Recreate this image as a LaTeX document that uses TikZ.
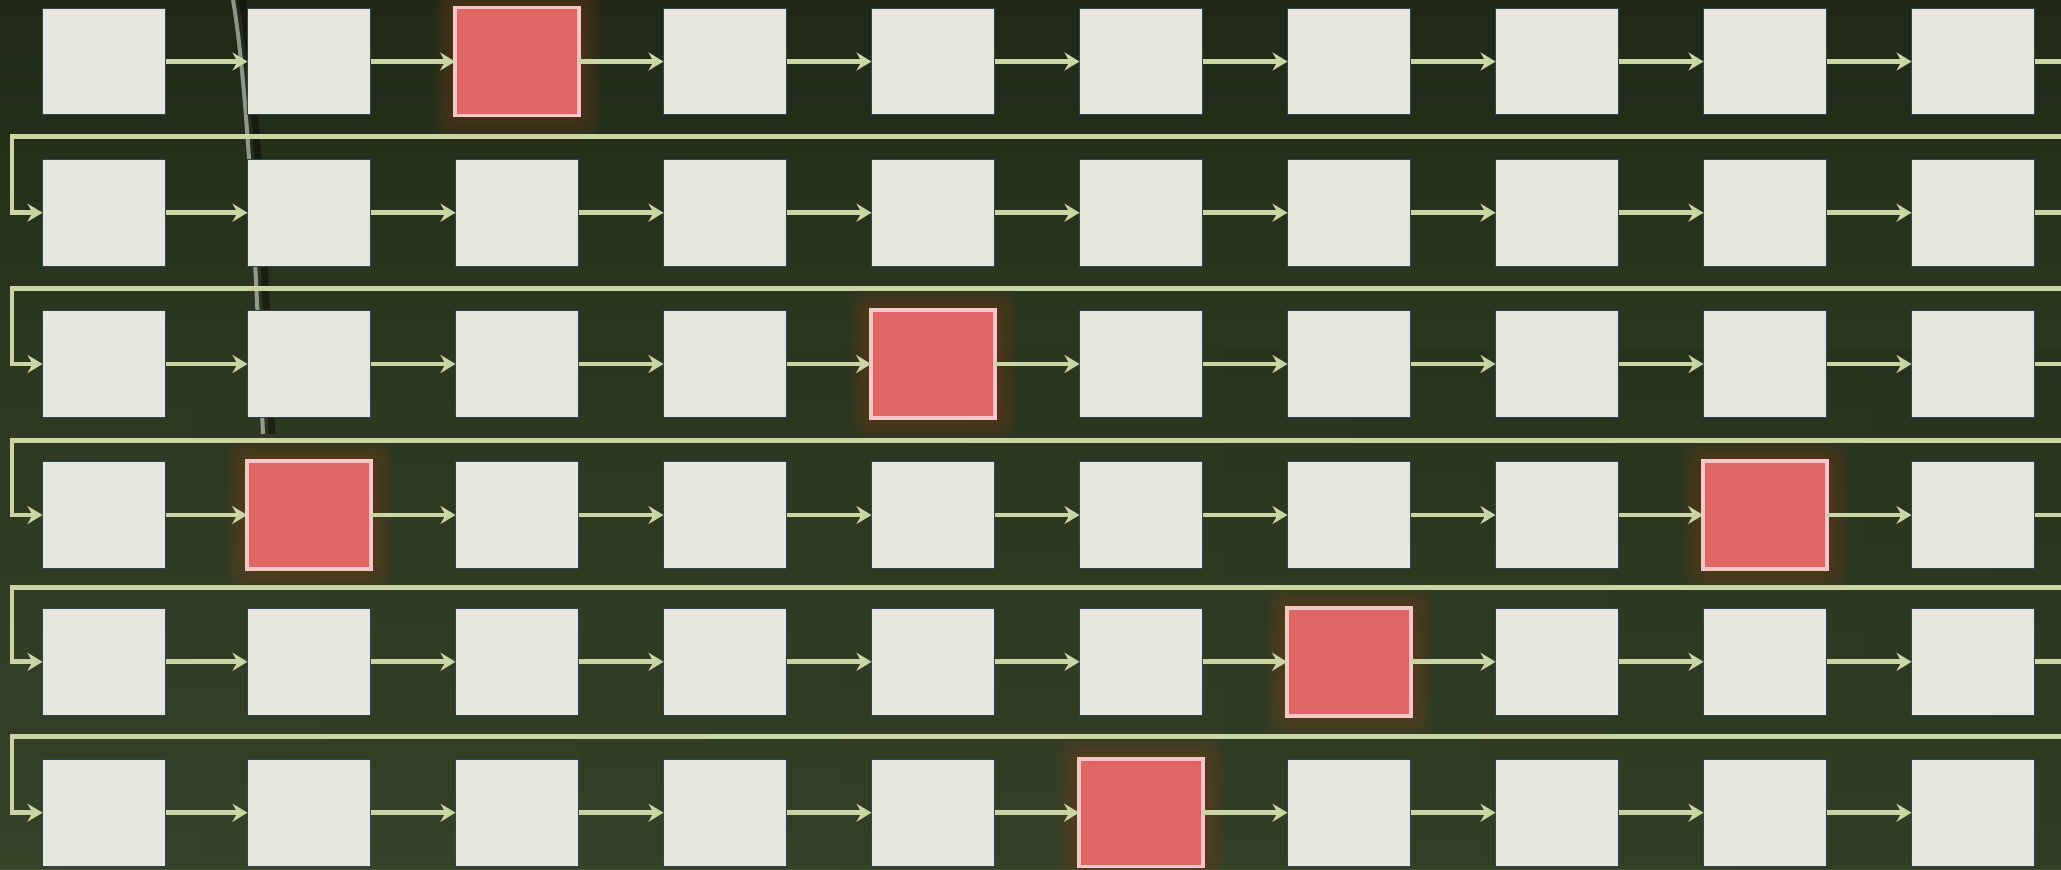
\documentclass[tikz,border=0pt]{standalone}
\usetikzlibrary{arrows.meta}
\definecolor{bgtop}{HTML}{1F2916}
\definecolor{bgbot}{HTML}{3E4F2F}
\definecolor{bgleft}{HTML}{4E5F3A}
\definecolor{flowcol}{HTML}{C9D6A3}
\definecolor{boxfill}{HTML}{E6E6DF}
\definecolor{boxborder}{HTML}{2E4558}
\definecolor{hotfill}{HTML}{E06666}
\definecolor{hotborder}{HTML}{F7C6C6}
\definecolor{glowcol}{HTML}{7A3C1A}
\pgfdeclarelayer{bg}
\pgfdeclarelayer{glow}
\pgfsetlayers{bg,glow,main}
\tikzset{
  cell/.style={draw=boxborder, line width=0.5pt, fill=boxfill,
    minimum width=61.5pt, minimum height=53.4pt, inner sep=0pt, outer sep=0pt},
  hot/.style={draw=hotborder, line width=1.85pt, fill=hotfill,
    minimum width=61.9pt, minimum height=53.9pt},
  kind-1-3/.style={hot}, kind-3-5/.style={hot}, kind-4-2/.style={hot},
  kind-4-9/.style={hot}, kind-5-7/.style={hot}, kind-6-6/.style={hot},
  flow/.style={draw=flowcol, line width=2.4pt,
    -{Stealth[length=7.5pt,width=9pt,inset=2.5pt]}},
  link/.style={draw=flowcol, line width=2.4pt}
}
\begin{document}
\begin{tikzpicture}[x=0.5pt,y=-0.5pt]
\useasboundingbox (0,0) rectangle (2061,869);
\begin{pgfonlayer}{bg}
% background
\fill[top color=bgtop, bottom color=bgbot] (0,0) rectangle (2061,869);
\fill[left color=bgleft, right color=bgbot, opacity=0.3] (0,350) rectangle (2061,869);
% crack texture
\draw[black, opacity=0.4, line width=3.5pt] (242,0) .. controls (256,80) and (264,250) .. (272,434);
\draw[white, opacity=0.5, line width=2pt] (233,0) .. controls (247,80) and (255,250) .. (263,434);
\end{pgfonlayer}
% cells
\foreach \r/\y in {1/61.5, 2/212.7, 3/364, 4/515, 5/661.8, 6/812.7}{
  \foreach \c/\x in {1/104, 2/309, 3/517, 4/725, 5/933, 6/1141, 7/1349, 8/1557, 9/1765, 10/1973}{
    \node[cell, kind-\r-\c/.try] (b-\r-\c) at (\x,\y) {};
  }
}
% glow behind highlighted cells
\begin{pgfonlayer}{glow}
\foreach \r/\c in {1/3,3/5,4/2,4/9,5/7,6/6}{
  \foreach \d in {3,6,...,21}{
    \fill[glowcol, opacity=0.085, rounded corners=7pt]
      ([shift={(-\d,-\d)}]b-\r-\c.north west) rectangle ([shift={(\d,\d)}]b-\r-\c.south east);
  }
}
\end{pgfonlayer}
% arrows within rows
\foreach \r in {1,...,6}{
  \foreach \c [evaluate=\c as \n using int(\c+1)] in {1,...,9}{
    \draw[flow] (b-\r-\c.east) -- (b-\r-\n.west);
  }
}
% stubs leaving the last cell of each row
\foreach \r in {1,...,5}{
  \coordinate (out-\r) at ([xshift=40pt]b-\r-10.east);
  \draw[link] (b-\r-10.east) -- (out-\r);
}
% return lines into the first cell of the next row
\foreach \r/\ly in {2/136.7, 3/288.7, 4/440.7, 5/587.5, 6/736.7}{
  \coordinate (in-\r) at (2075,\ly);
  \coordinate (turn-\r) at (12,\ly);
  \draw[flow] (in-\r) -- (turn-\r) |- (b-\r-1.west);
}
\end{tikzpicture}
\end{document}
